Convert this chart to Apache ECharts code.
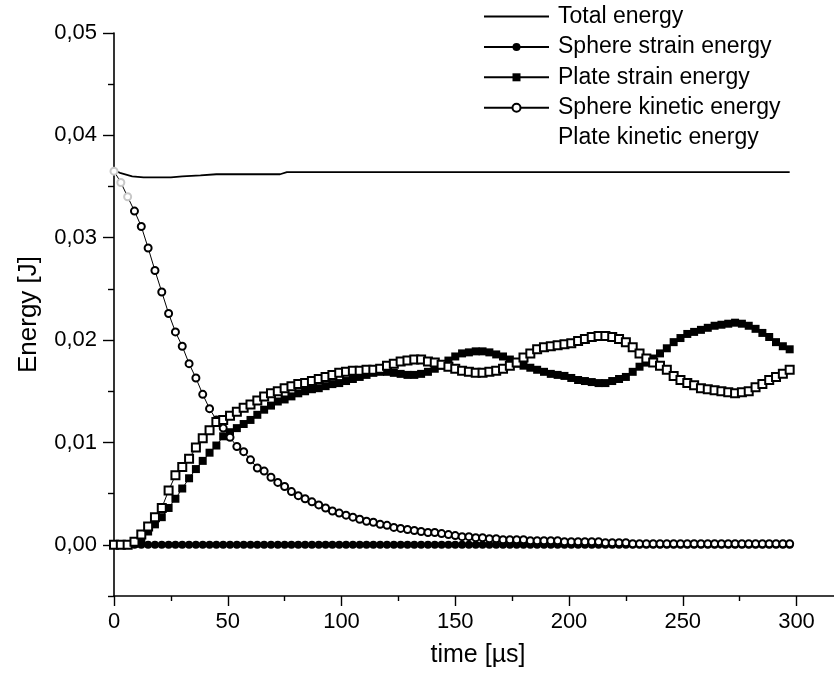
<!DOCTYPE html>
<html>
<head>
<meta charset="utf-8">
<script src="https://cdn.jsdelivr.net/npm/echarts@6/dist/echarts.min.js"></script>
<style>
html,body{margin:0;padding:0;overflow:hidden;background:#fff;}
#chart{width:842px;height:679px;}
</style>
</head>
<body>
<div id="chart"></div>
<script>
// ---- data ----
var totalTime = [0,3,8,13,20,25,30,38,45,60,73,76,100,150,200,250,297];
var totalEnergy = [0.0366,0.0363,0.0360,0.0359,0.0359,0.0359,0.0360,0.0361,0.0362,0.0362,0.0362,0.0364,0.0364,0.0364,0.0364,0.0364,0.0364];

var time = [0,3,6,9,12,15,18,21,24,27,30,33,36,39,42,45,48,51,54,57,60,63,66,69,72,75,78,81,84,87,90,93,96,99,102,105,108,111,114,117,120,123,126,129,132,135,138,141,144,147,150,153,156,159,162,165,168,171,174,177,180,183,186,189,192,195,198,201,204,207,210,213,216,219,222,225,228,231,234,237,240,243,246,249,252,255,258,261,264,267,270,273,276,279,282,285,288,291,294,297];

var sphereStrain = [0,0,0,0,0,0,0,0,0,0,0,0,0,0,0,0,0,0,0,0,0,0,0,0,0,0,0,0,0,0,0,0,0,0,0,0,0,0,0,0,0,0,0,0,0,0,0,0,0,0,0,0,0,0,0,0,0,0,0,0,0,0,0,0,0,0,0,0,0,0,0,0,0,0,0,0,0,0,0,0,0,0,0,0,0,0,0,0,0,0,0,0,0,0,0,0,0,0,0,0];

var plateStrain = [0,0,0,0.0001,0.0005,0.0013,0.0020,0.0027,0.0036,0.0045,0.0055,0.0065,0.0074,0.0082,0.0090,0.0097,0.0106,0.0110,0.0114,0.0118,0.0122,0.0127,0.0132,0.0136,0.0140,0.0142,0.0145,0.0148,0.0150,0.0152,0.0153,0.0155,0.0157,0.0158,0.0160,0.0162,0.0164,0.0166,0.0168,0.0169,0.0169,0.0168,0.0167,0.0166,0.0166,0.0167,0.0169,0.0172,0.0175,0.0180,0.0184,0.0187,0.0188,0.0189,0.0189,0.0188,0.0186,0.0184,0.0181,0.0177,0.0175,0.0173,0.0171,0.0169,0.0167,0.0166,0.0165,0.0163,0.0161,0.0160,0.0159,0.0158,0.0158,0.0160,0.0162,0.0164,0.0169,0.0174,0.0178,0.0182,0.0187,0.0192,0.0198,0.0202,0.0206,0.0208,0.0210,0.0212,0.0214,0.0215,0.0216,0.0217,0.0216,0.0214,0.0211,0.0207,0.0203,0.0198,0.0194,0.0191];

var sphereKinetic = [0.0365,0.0354,0.0340,0.0326,0.0311,0.0290,0.0268,0.0247,0.0226,0.0208,0.0194,0.0177,0.0163,0.0147,0.0133,0.0122,0.0114,0.0105,0.0096,0.0091,0.0083,0.0075,0.0072,0.0066,0.0061,0.0057,0.0052,0.0048,0.0045,0.0042,0.0039,0.0036,0.0033,0.0031,0.0029,0.0027,0.0025,0.0023,0.0022,0.0020,0.0019,0.0017,0.0016,0.0015,0.0014,0.0013,0.0012,0.0012,0.0011,0.0010,0.0009,0.0008,0.0008,0.0007,0.0007,0.0006,0.0006,0.0005,0.0005,0.0005,0.0005,0.0004,0.0004,0.0004,0.0004,0.0004,0.0003,0.0003,0.0003,0.0003,0.0003,0.0003,0.0002,0.0002,0.0002,0.0002,0.0001,0.0001,0.0001,0.0001,0.0001,0.0001,0.0001,0.0001,0.0001,0.0001,0.0001,0.0001,0.0001,0.0001,0.0001,0.0001,0.0001,0.0001,0.0001,0.0001,0.0001,0.0001,0.0001,0.0001];

var plateKinetic = [0,0,0,0.0003,0.0010,0.0018,0.0027,0.0036,0.0053,0.0068,0.0076,0.0084,0.0095,0.0104,0.0112,0.0120,0.0122,0.0126,0.0130,0.0134,0.0137,0.0141,0.0145,0.0148,0.0150,0.0153,0.0155,0.0157,0.0158,0.0160,0.0162,0.0164,0.0166,0.0168,0.0169,0.0170,0.0170,0.0171,0.0171,0.0172,0.0175,0.0177,0.0179,0.0180,0.0181,0.0181,0.0179,0.0178,0.0176,0.0174,0.0172,0.0170,0.0169,0.0168,0.0168,0.0169,0.0170,0.0172,0.0175,0.0178,0.0183,0.0187,0.0191,0.0193,0.0194,0.0195,0.0196,0.0197,0.0199,0.0201,0.0203,0.0204,0.0204,0.0203,0.0201,0.0198,0.0193,0.0187,0.0182,0.0178,0.0175,0.0171,0.0165,0.0161,0.0158,0.0156,0.0153,0.0152,0.0151,0.0150,0.0149,0.0148,0.0149,0.0150,0.0154,0.0157,0.0161,0.0164,0.0167,0.0171];

var xMajorTicks = [0,50,100,150,200,250,300];
var xMinorTicks = [25,75,125,175,225,275];
var yMajorTicks = [0,0.01,0.02,0.03,0.04,0.05];
var yMinorTicks = [-0.005,0.005,0.015,0.025,0.035,0.045];

var seriesNames = ['Total energy','Sphere strain energy','Plate strain energy','Sphere kinetic energy','Plate kinetic energy'];

// ---- chart ----
function pairs(ts, vs){ return ts.map(function(t,i){ return [t, vs[i]]; }); }
var FONT = 'Liberation Sans, Arial, Helvetica, sans-serif';
var chart = echarts.init(document.getElementById('chart'), null, {renderer:'canvas'});
var axisLineStyle = {color:'#000', width:1.6};

function xAxisDef(major){
  return {
    type:'value', min:0, max:320, position:'bottom',
    axisLine:{show:major, onZero:false, lineStyle:axisLineStyle},
    axisTick:{show:true, inside:false, length: major?10:5, lineStyle:{color:'#000', width:1.4}, customValues: major?xMajorTicks:xMinorTicks},
    axisLabel:{show:major, customValues:xMajorTicks, color:'#000', fontFamily:FONT, fontSize:22, margin:15},
    splitLine:{show:false},
    name: major ? 'time [\u00b5s]' : '', nameLocation:'middle', nameGap:47,
    nameTextStyle:{color:'#000', fontFamily:FONT, fontSize:25}
  };
}
function yAxisDef(major){
  return {
    type:'value', min:-0.005, max:0.05, position:'left',
    axisLine:{show:major, onZero:false, lineStyle:axisLineStyle},
    axisTick:{show:true, inside:false, length: major?11:6, lineStyle:{color:'#000', width:1.4}, customValues: major?yMajorTicks:yMinorTicks},
    axisLabel:{show:major, customValues:yMajorTicks, color:'#000', fontFamily:FONT, fontSize:22, margin:17,
      formatter:function(v){ return v.toFixed(2).replace('.', ','); }},
    splitLine:{show:false},
    name: major ? 'Energy [J]' : '', nameLocation:'middle', nameGap:72, nameRotate:90,
    nameTextStyle:{color:'#000', fontFamily:FONT, fontSize:26}
  };
}

var skData = pairs(time, sphereKinetic);
for (var k = 0; k < 3; k++) {
  skData[k] = {value: skData[k], itemStyle:{color:'#c8c8c8', borderColor:'#c8c8c8'}};
}

var option = {
  backgroundColor:'#fff',
  animation:false,
  grid:{left:114, right:0, top:33, bottom:83, containLabel:false},
  xAxis:[xAxisDef(true), xAxisDef(false)],
  yAxis:[yAxisDef(true), yAxisDef(false)],
  legend:{
    orient:'vertical', left:478, top:0,
    itemWidth:65, itemHeight:10, itemGap:7.4,
    textStyle:{color:'#000', fontFamily:FONT, fontSize:23, padding:[0,0,0,4]},
    data:[
      {name:seriesNames[0], itemStyle:{opacity:0}},
      {name:seriesNames[1]},
      {name:seriesNames[2]},
      {name:seriesNames[3]},
      {name:seriesNames[4], icon:'none', itemStyle:{opacity:0}, lineStyle:{opacity:0}}
    ]
  },
  series:[
    {name:seriesNames[0], type:'line', data:pairs(totalTime,totalEnergy), symbol:'none', showSymbol:false,
      lineStyle:{color:'#000', width:1.8}, itemStyle:{color:'#000'}, z:2},
    {name:seriesNames[1], type:'line', data:pairs(time,sphereStrain), symbol:'circle', symbolSize:8,
      lineStyle:{color:'#000', width:1}, itemStyle:{color:'#000'}, z:3},
    {name:seriesNames[2], type:'line', data:pairs(time,plateStrain), symbol:'rect', symbolSize:8,
      lineStyle:{color:'#000', width:1}, itemStyle:{color:'#000'}, z:4},
    {name:seriesNames[3], type:'line', data:skData, symbol:'emptyCircle', symbolSize:7,
      lineStyle:{color:'#000', width:1}, itemStyle:{color:'#000', borderColor:'#000', borderWidth:1.6}, z:5},
    {name:seriesNames[4], type:'line', data:pairs(time,plateKinetic), symbol:'emptyRect', symbolSize:8,
      lineStyle:{color:'#000', width:1}, itemStyle:{color:'#000', borderColor:'#000', borderWidth:1.6}, z:6}
  ]
};
chart.setOption(option);
</script>
</body>
</html>
